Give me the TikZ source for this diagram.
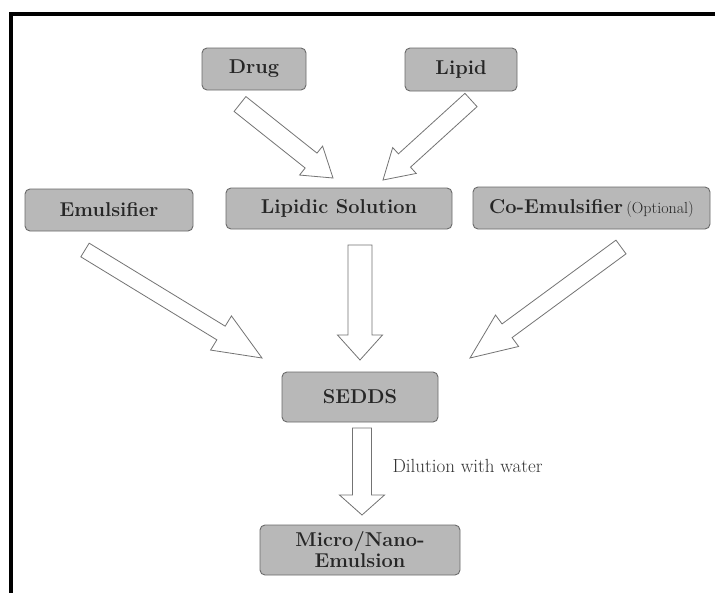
\documentclass[tikz,border=0pt]{standalone}
\usetikzlibrary{calc}
\tikzset{
  box/.style={draw=black!58, line width=0.9pt, fill=black!28, rounded corners=5pt,
    inner sep=2pt, align=center, font=\fontsize{20}{21}\selectfont\bfseries, text=black!85},
  fat/.style={draw=black!55, line width=0.8pt, fill=white, line join=miter},
  note/.style={font=\fontsize{19}{20}\selectfont, text=black!80}
}
% tail, tip, shaft half-width, head half-width, head length, id
\newcommand\fatarrow[6]{%
  \coordinate (#6n) at ($(#2)!#5pt!(#1)$);
  \draw[fat] ($(#1)!#3pt!90:(#2)$) -- ($(#6n)!#3pt!90:(#2)$) -- ($(#6n)!#4pt!90:(#2)$)
    -- (#2) -- ($(#6n)!#4pt!-90:(#2)$) -- ($(#6n)!#3pt!-90:(#2)$) -- ($(#1)!#3pt!-90:(#2)$) -- cycle;
}
\begin{document}
\begin{tikzpicture}[x=1pt,y=-1pt]
\useasboundingbox (0,0) rectangle (715,592);
\fill[white] (0,0) rectangle (715,592);
% frame
\draw[line width=4pt, line join=miter] (10.5,594) -- (10.5,14) -- (717,14);

% boxes
\node[box, minimum width=104pt, minimum height=42pt] (drug) at (254,69) {Drug};
\node[box, minimum width=112pt, minimum height=43pt] (lipid) at (461,69.5) {Lipid};
\node[box, minimum width=168pt, minimum height=42pt] (emuls) at (109,210) {Emulsifier};
\node[box, minimum width=226pt, minimum height=41pt] (lipsol) at (339,208.5) {Lipidic Solution};
\node[box, minimum width=237pt, minimum height=42pt] (coemul) at (591.5,208)
  {Co-Emulsifier\,{\fontsize{16}{17}\selectfont\mdseries(Optional)}};
\node[box, minimum width=156pt, minimum height=50pt] (sedds) at (360,397) {SEDDS};
\node[box, minimum width=200pt, minimum height=50pt] (micro) at (360,550) {Micro/Nano-\\Emulsion};

% arrow ends
\coordinate (drugT) at (240,104);   \coordinate (drugH) at (333,178);
\coordinate (lipT) at (471,100);    \coordinate (lipH) at (383,180);
\coordinate (emT) at (85,250);      \coordinate (emH) at (262,358);
\coordinate (coT) at (621,247);     \coordinate (coH) at (470,358);
\coordinate (lsT) at (360,245);     \coordinate (lsH) at (360,360);
\coordinate (seT) at (362,428);     \coordinate (seH) at (362,515);

\fatarrow{drugT}{drugH}{9.5}{18.5}{28}{a}
\fatarrow{lipT}{lipH}{9}{17.5}{29}{b}
\fatarrow{emT}{emH}{8}{20}{48}{c}
\fatarrow{coT}{coH}{8.5}{19.5}{46}{d}
\fatarrow{lsT}{lsH}{12}{22.5}{25}{e}
\fatarrow{seT}{seH}{9.5}{22.5}{20}{f}

\node[note] (dil) at (467.5,466) {Dilution with water};
\end{tikzpicture}
\end{document}
